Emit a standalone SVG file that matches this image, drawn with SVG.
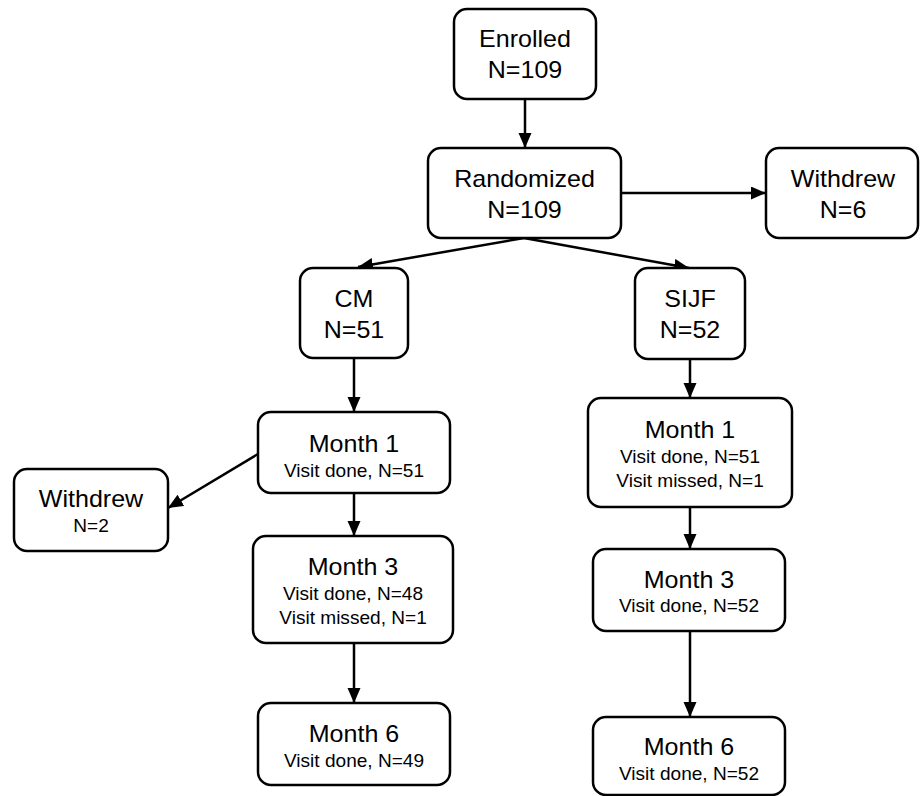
<svg xmlns="http://www.w3.org/2000/svg" width="920" height="796" viewBox="0 0 920 796">
<defs>
<marker id="arr" markerWidth="16" markerHeight="14" refX="15" refY="6.5" orient="auto" markerUnits="userSpaceOnUse">
<path d="M0,0 L15,6.5 L0,13 z" fill="#000"/>
</marker>
<style>
.box{fill:#fff;stroke:#000;stroke-width:2.5}
.big{font-family:"Liberation Sans",Arial,sans-serif;font-size:23px;text-anchor:middle;fill:#000}
.sm{font-family:"Liberation Sans",Arial,sans-serif;font-size:17.5px;text-anchor:middle;fill:#000}
.con{stroke:#000;stroke-width:2.5;fill:none;marker-end:url(#arr)}
</style>
</defs>
<rect width="920" height="796" fill="#fff"/>
<g id="connectors">
<line class="con" x1="525" y1="99" x2="525" y2="148"/>
<line class="con" x1="621" y1="193" x2="766" y2="193"/>
<line class="con" x1="524" y1="238" x2="358" y2="267"/>
<line class="con" x1="524" y1="238" x2="689" y2="268"/>
<line class="con" x1="354" y1="358" x2="354" y2="412"/>
<line class="con" x1="354" y1="493" x2="354" y2="536"/>
<line class="con" x1="354" y1="643" x2="354" y2="703"/>
<line class="con" x1="690" y1="359" x2="690" y2="398"/>
<line class="con" x1="690" y1="507" x2="690" y2="549"/>
<line class="con" x1="690" y1="631" x2="690" y2="717"/>
<line class="con" x1="258" y1="454" x2="168" y2="508"/>
</g>
<g id="enrolled">
<rect class="box" x="454" y="9" width="142" height="90" rx="13"/>
<text class="big" transform="translate(525,47) scale(1.09,1)">Enrolled</text>
<text class="big" transform="translate(525,78) scale(1.09,1)">N=109</text>
</g>
<g id="randomized">
<rect class="box" x="428" y="148" width="193" height="90" rx="13"/>
<text class="big" transform="translate(524.5,187) scale(1.09,1)">Randomized</text>
<text class="big" transform="translate(524.5,218) scale(1.09,1)">N=109</text>
</g>
<g id="withdrew-top">
<rect class="box" x="766" y="148" width="152" height="90" rx="13"/>
<text class="big" transform="translate(843,187) scale(1.09,1)">Withdrew</text>
<text class="big" transform="translate(843,218) scale(1.09,1)">N=6</text>
</g>
<g id="cm">
<rect class="box" x="300" y="268" width="108" height="90" rx="13"/>
<text class="big" transform="translate(354,307) scale(1.09,1)">CM</text>
<text class="big" transform="translate(354,338) scale(1.09,1)">N=51</text>
</g>
<g id="sijf">
<rect class="box" x="635" y="268" width="110" height="91" rx="13"/>
<text class="big" transform="translate(690,307) scale(1.09,1)">SIJF</text>
<text class="big" transform="translate(690,338) scale(1.09,1)">N=52</text>
</g>
<g id="cm-month1">
<rect class="box" x="258" y="412" width="192" height="81" rx="13"/>
<text class="big" transform="translate(354,452) scale(1.09,1)">Month 1</text>
<text class="sm" transform="translate(354,477) scale(1.09,1)">Visit done, N=51</text>
</g>
<g id="withdrew-left">
<rect class="box" x="14" y="469" width="154" height="82" rx="13"/>
<text class="big" transform="translate(91,507) scale(1.09,1)">Withdrew</text>
<text class="sm" transform="translate(91,532) scale(1.09,1)">N=2</text>
</g>
<g id="cm-month3">
<rect class="box" x="253" y="536" width="200" height="107" rx="13"/>
<text class="big" transform="translate(353,575) scale(1.09,1)">Month 3</text>
<text class="sm" transform="translate(353,600) scale(1.09,1)">Visit done, N=48</text>
<text class="sm" transform="translate(353,624) scale(1.09,1)">Visit missed, N=1</text>
</g>
<g id="cm-month6">
<rect class="box" x="258" y="703" width="192" height="82" rx="13"/>
<text class="big" transform="translate(354,742) scale(1.09,1)">Month 6</text>
<text class="sm" transform="translate(354,767) scale(1.09,1)">Visit done, N=49</text>
</g>
<g id="sijf-month1">
<rect class="box" x="588" y="398" width="204" height="109" rx="13"/>
<text class="big" transform="translate(690,438) scale(1.09,1)">Month 1</text>
<text class="sm" transform="translate(690,463) scale(1.09,1)">Visit done, N=51</text>
<text class="sm" transform="translate(690,487) scale(1.09,1)">Visit missed, N=1</text>
</g>
<g id="sijf-month3">
<rect class="box" x="593" y="549" width="192" height="82" rx="13"/>
<text class="big" transform="translate(689,588) scale(1.09,1)">Month 3</text>
<text class="sm" transform="translate(689,612) scale(1.09,1)">Visit done, N=52</text>
</g>
<g id="sijf-month6">
<rect class="box" x="593" y="717" width="192" height="78" rx="13"/>
<text class="big" transform="translate(689,755) scale(1.09,1)">Month 6</text>
<text class="sm" transform="translate(689,780) scale(1.09,1)">Visit done, N=52</text>
</g>
</svg>
